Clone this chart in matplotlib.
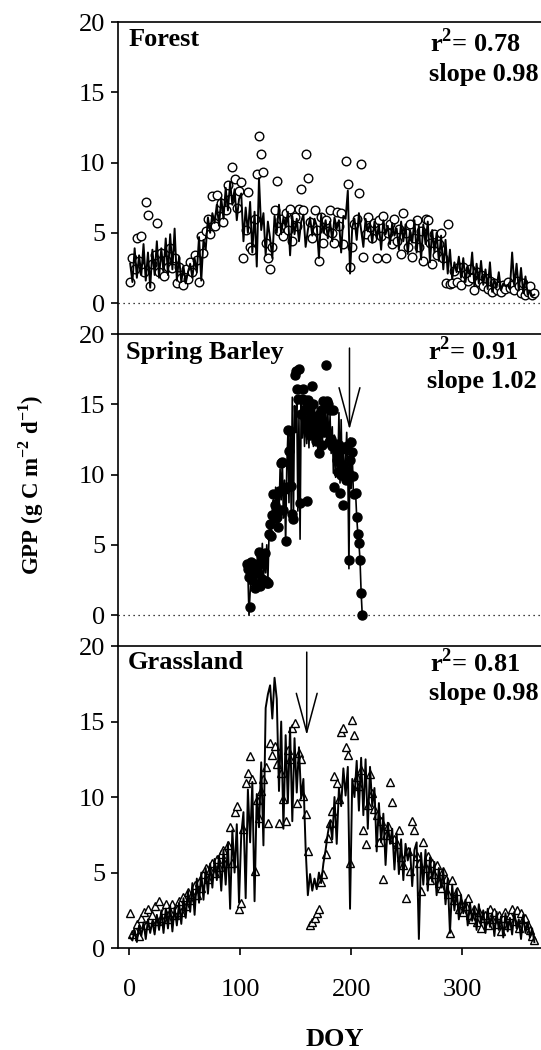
import numpy as np
import matplotlib
matplotlib.use('Agg')
import matplotlib.pyplot as plt

plt.rcParams['font.family'] = ['Liberation Serif', 'DejaVu Serif']
plt.rcParams['mathtext.fontset'] = 'custom'
plt.rcParams['mathtext.rm'] = 'Liberation Serif:bold'
plt.rcParams['mathtext.bf'] = 'Liberation Serif:bold'

# Day of year for forest and grassland (every second day), and barley season (daily)
doy_2day = np.arange(1, 366, 2)
barley_doy = np.arange(106, 211)

# Forest: measured (circles) and modelled (line) GPP
forest_obs = [
    1.5, 3.2, 2.4, 4.6, 3.0, 4.8, 2.2, 7.2, 6.3, 1.2,
    2.8, 3.4, 5.7, 2.2, 3.6, 1.9, 3.1, 2.6, 3.9, 2.5,
    3.2, 1.4, 2.6, 1.8, 1.3, 2.4, 1.7, 2.9, 2.2, 3.4,
    3.1, 1.5, 4.8, 3.6, 5.1, 6.0, 4.9, 7.6, 5.5, 7.7,
    6.2, 7.1, 5.8, 6.6, 8.4, 7.4, 9.7, 8.8, 6.8, 8.0,
    8.6, 3.2, 5.2, 7.9, 4.0, 3.8, 6.0, 9.2, 11.9, 10.6,
    9.3, 4.3, 3.2, 2.4, 4.0, 6.6, 8.7, 5.1, 6.0, 4.8,
    6.4, 5.2, 6.7, 4.4, 6.1, 5.5, 6.7, 8.1, 6.6, 10.6,
    8.9, 5.8, 4.6, 6.6, 5.2, 3.0, 6.1, 4.3, 5.9, 5.1,
    6.6, 5.0, 4.3, 6.5, 5.5, 6.4, 4.2, 10.1, 8.5, 2.6,
    4.0, 5.6, 6.0, 7.8, 9.9, 3.3, 4.9, 6.1, 5.4, 4.6,
    5.7, 3.2, 5.9, 4.8, 6.2, 3.2, 5.0, 5.6, 4.2, 6.0,
    4.4, 5.3, 3.5, 6.4, 5.0, 4.0, 5.6, 3.3, 4.6, 5.9,
    4.0, 5.1, 3.0, 6.0, 5.9, 4.3, 2.8, 4.9, 3.4, 4.2,
    5.0, 3.2, 1.4, 5.6, 1.35, 1.4, 2.3, 1.5, 2.6, 1.3,
    2.6, 2.1, 1.6, 2.4, 1.8, 0.9, 2.2, 1.5, 2.0, 1.2,
    1.8, 1.0, 1.6, 0.8, 1.4, 0.9, 1.2, 0.8, 1.3, 1.0,
    1.5, 1.1, 1.3, 0.9, 1.6, 1.2, 0.7, 1.4, 0.6, 0.8,
    1.2, 0.6, 0.7,
]
forest_mod = [
    2.8, 1.5, 3.9, 1.8, 3.4, 2.0, 4.2, 1.6, 3.6, 1.1,
    3.8, 2.0, 4.4, 1.8, 3.9, 2.2, 4.6, 2.0, 4.9, 2.4,
    5.3, 1.6, 3.3, 1.5, 2.6, 1.4, 2.2, 2.8, 1.8, 3.2,
    2.2, 4.7, 1.6, 4.5, 3.8, 6.1, 5.0, 6.4, 5.7, 7.0,
    5.5, 7.5, 6.0, 8.2, 6.6, 8.6, 7.0, 8.1, 5.9, 7.4,
    7.8, 4.4, 6.8, 5.0, 7.2, 3.6, 6.5, 2.6, 8.9, 5.2,
    6.4, 3.4, 5.8, 4.6, 3.2, 6.2, 5.0, 7.0, 4.9, 6.1,
    5.4, 6.5, 3.4, 6.2, 4.9, 6.0, 4.4, 5.8, 6.3, 4.0,
    5.2, 6.1, 4.8, 6.0, 5.5, 3.2, 6.3, 5.0, 5.9, 4.6,
    5.8, 4.4, 6.1, 5.3, 5.9, 3.6, 6.2, 6.0, 8.0, 2.1,
    5.4, 6.0, 4.5, 6.4, 5.2, 4.0, 6.0, 5.1, 5.7, 4.3,
    5.8, 4.6, 5.6, 3.8, 5.9, 4.9, 5.5, 4.2, 5.7, 4.8,
    5.3, 3.8, 5.8, 4.4, 5.6, 3.5, 5.2, 4.3, 5.9, 3.6,
    5.5, 3.1, 5.6, 4.2, 5.8, 2.9, 5.2, 3.6, 5.0, 3.0,
    4.8, 2.4, 4.5, 2.1, 3.8, 1.7, 2.9, 2.2, 3.3, 1.8,
    3.2, 1.5, 2.6, 1.9, 3.6, 1.2, 2.8, 1.4, 3.0, 1.3,
    2.4, 1.0, 2.9, 0.8, 1.7, 1.1, 2.2, 0.9, 1.4, 1.2,
    1.3, 1.0, 3.6, 1.2, 2.8, 0.9, 2.5, 0.7, 1.9, 0.6,
    0.9, 0.5, 0.6,
]

# Spring barley: measured (filled circles) and modelled (line) GPP
barley_obs = [
    3.6, 3.3, 2.7, 0.6, 3.8, 2.5, 3.1, 1.9, 3.6, 2.2,
    3.0, 4.5, 2.1, 4.1, 2.6, 3.7, 4.4, 2.4, 2.3, 2.3,
    5.8, 6.5, 5.6, 7.1, 8.6, 7.8, 6.9, 7.0, 6.3, 8.8,
    7.5, 10.8, 10.9, 7.5, 9.0, 5.3, 9.1, 13.2, 11.7, 13.1,
    9.2, 7.2, 6.8, 17.1, 17.4, 16.1, 15.4, 17.5, 8.0, 14.3,
    15.4, 16.1, 15.3, 14.7, 8.1, 15.3, 14.5, 12.8, 13.5, 16.3,
    15.0, 13.9, 12.4, 14.2, 12.8, 11.5, 13.0, 14.6, 12.1, 15.2,
    13.0, 17.8, 15.2, 15.0, 12.3, 14.6, 12.5, 12.0, 14.6, 9.1,
    12.2, 11.0, 10.2, 12.1, 8.7, 10.0, 11.8, 7.8, 10.5, 9.6,
    12.0, 10.2, 3.9, 11.0, 12.3, 11.6, 9.9, 8.6, 8.7, 7.0,
    5.8, 5.1, 3.9, 1.6, 0.0,
]
barley_mod = [
    3.4, 2.9, 0.0, 1.6, 3.2, 2.2, 3.8, 2.0, 3.3, 2.6,
    3.9, 2.3, 4.4, 3.0, 5.1, 2.5, 4.2, 3.0, 5.0, 2.4,
    5.6, 6.7, 5.4, 7.6, 8.2, 6.4, 9.1, 6.8, 8.9, 7.0,
    10.4, 8.2, 11.1, 6.9, 9.6, 5.0, 10.5, 12.8, 8.0, 13.4,
    7.4, 15.5, 6.8, 14.9, 13.0, 15.3, 7.4, 14.0, 5.4, 15.3,
    12.6, 14.8, 12.0, 15.0, 12.2, 14.6, 11.9, 15.2, 12.8, 14.8,
    12.0, 15.0, 12.4, 14.5, 11.6, 13.9, 12.2, 14.8, 11.8, 15.1,
    12.7, 14.9, 12.1, 14.5, 11.9, 14.2, 11.5, 13.4, 10.1, 12.8,
    9.8, 12.0, 10.4, 14.4, 9.4, 13.9, 9.6, 12.1, 9.8, 11.0,
    13.0, 10.4, 3.3, 12.6, 9.0, 11.4, 8.7, 8.6, 8.7, 7.0,
    5.8, 5.1, 3.9, 1.6, 0.0,
]

# Grassland: measured (triangles) and modelled (line) GPP
grass_obs = [
    2.3, 0.9, 1.2, 1.6, 0.8, 2.0, 2.4, 1.5, 2.6, 1.9,
    2.2, 2.8, 1.8, 3.1, 2.0, 2.5, 2.9, 1.9, 2.4, 2.9,
    2.2, 2.6, 3.1, 2.4, 3.4, 2.8, 3.7, 3.2, 3.6, 4.2,
    3.5, 4.4, 4.0, 4.9, 5.3, 4.6, 5.2, 5.6, 5.0, 5.9,
    5.4, 6.2, 6.5, 5.6, 6.8, 8.0, 5.6, 9.0, 9.4, 2.6,
    3.0, 7.9, 10.9, 11.6, 12.7, 11.2, 5.1, 9.8, 8.6, 10.4,
    11.2, 12.0, 8.3, 13.6, 12.8, 13.4, 12.2, 8.3, 11.6, 9.9,
    8.4, 13.1, 12.5, 14.6, 14.9, 9.6, 12.9, 12.5, 10.1, 8.9,
    6.4, 1.5, 1.7, 2.0, 2.3, 2.6, 4.4, 4.9, 6.2, 7.3,
    8.3, 9.1, 11.4, 10.9, 9.9, 14.3, 14.6, 13.3, 12.8, 5.6,
    15.1, 14.1, 11.3, 10.7, 11.8, 7.8, 6.9, 9.5, 11.5, 10.3,
    9.2, 8.8, 7.0, 8.4, 4.6, 7.5, 8.1, 11.0, 9.7, 7.2,
    6.9, 7.8, 6.0, 5.5, 3.3, 6.4, 5.1, 8.4, 7.8, 6.1,
    5.6, 3.8, 7.0, 5.3, 6.1, 4.5, 5.6, 4.9, 5.5, 4.3,
    4.0, 5.1, 4.6, 3.6, 1.0, 4.5, 3.2, 3.8, 2.6, 3.0,
    2.4, 2.8, 3.3, 2.2, 1.9, 2.6, 1.7, 2.4, 1.3, 2.0,
    2.2, 1.5, 2.6, 1.9, 2.4, 1.6, 2.2, 1.1, 2.0, 2.4,
    1.5, 2.2, 2.6, 1.8, 2.5, 1.3, 2.3, 1.9, 2.0, 1.5,
    1.2, 0.8, 0.5,
]
grass_mod = [
    0.7, 0.5, 1.2, 0.4, 1.5, 0.8, 1.7, 0.6, 1.9, 1.0,
    1.8, 0.9, 2.2, 1.2, 2.5, 1.0, 2.6, 1.3, 2.8, 1.1,
    2.7, 1.5, 3.0, 1.6, 3.3, 2.0, 3.8, 2.4, 4.3, 2.2,
    4.6, 3.0, 5.0, 3.2, 5.3, 3.6, 5.6, 4.0, 5.9, 4.5,
    6.1, 3.8, 6.5, 4.2, 7.0, 2.6, 7.8, 5.0, 8.2, 3.0,
    7.5, 9.0, 3.3, 10.5, 7.0, 11.0, 3.1, 10.2, 8.0, 12.3,
    6.8, 15.9, 16.8, 17.4, 15.2, 17.9, 16.5, 10.4, 15.0, 7.9,
    14.1, 9.6, 14.6, 8.4, 13.9, 10.3, 13.3, 9.9, 11.2, 6.6,
    3.5, 4.9, 3.8, 4.6, 3.9, 5.0, 4.3, 5.6, 6.5, 7.6,
    8.4, 7.2, 10.0, 6.9, 10.6, 9.4, 11.9, 10.1, 12.0, 2.6,
    11.2, 10.0, 12.4, 9.1, 12.6, 8.8, 12.5, 7.9, 12.0, 9.4,
    10.6, 6.4, 9.6, 7.0, 8.9, 5.5, 8.3, 6.9, 7.9, 5.2,
    7.6, 4.9, 7.2, 4.5, 6.9, 5.8, 6.6, 4.1, 6.5, 7.0,
    0.6, 6.3, 4.2, 6.5, 3.8, 6.0, 4.4, 5.7, 3.5, 5.3,
    4.0, 5.2, 2.9, 4.6, 1.0, 4.2, 2.5, 3.9, 1.9, 3.5,
    2.3, 3.2, 1.5, 3.0, 1.8, 2.7, 1.2, 2.9, 1.6, 2.5,
    1.0, 2.6, 1.4, 2.3, 0.8, 2.4, 1.2, 2.1, 0.7, 2.3,
    1.1, 2.0, 0.9, 2.4, 1.3, 1.9, 0.6, 2.2, 1.0, 1.7,
    0.7, 1.3, 0.4,
]

site_names = ['Forest', 'Spring Barley', 'Grassland']
r2_values = ['0.78', '0.91', '0.81']
slopes = ['0.98', '1.02', '0.98']
# harvest / cut arrows (DOY, arrow top, arrow tip)
arrows = [None, (198.5, 19.0, 13.2), (160, 19.6, 14.1)]

FS = 19


def style_axis(ax, ylim, bottom_axis):
    ax.set_xlim(-10, 371)
    ax.set_ylim(*ylim)
    ax.set_yticks([0, 5, 10, 15, 20])
    ax.spines['right'].set_visible(False)
    for s in ax.spines.values():
        s.set_linewidth(1.2)
    ax.tick_params(axis='y', direction='out', length=5, width=1.2,
                   labelsize=FS, pad=4)
    if bottom_axis:
        ax.set_xticks([0, 100, 200, 300])
        ax.tick_params(axis='x', direction='out', length=5, width=1.2,
                       labelsize=FS, pad=17)
    else:
        ax.spines['bottom'].set_visible(False)
        ax.set_xticks([])
        ax.axhline(0, color='black', ls=(0, (1, 3)), lw=0.9, zorder=1)


def make_plot():
    fig = plt.figure(figsize=(5.41, 10.5), dpi=100)
    left, width = 0.2181, 0.7819
    ax1 = fig.add_axes([left, 0.6819, width, 0.2971])
    ax2 = fig.add_axes([left, 0.3848, width, 0.2971])
    ax3 = fig.add_axes([left, 0.0971, width, 0.2876])

    ax1.plot(doy_2day, forest_obs, 'o', mfc='white', mec='black', ms=6.2,
             mew=1.0, zorder=2)
    ax1.plot(doy_2day, forest_mod, color='black', lw=1.4, zorder=3)

    ax2.plot(barley_doy, barley_obs, 'o', mfc='black', mec='black', ms=6.5,
             zorder=2)
    ax2.plot(barley_doy, barley_mod, color='black', lw=1.2, zorder=3)

    ax3.plot(doy_2day, grass_obs, '^', mfc='white', mec='black', ms=6.2,
             mew=1.0, zorder=2)
    ax3.plot(doy_2day, grass_mod, color='black', lw=1.4, zorder=3)

    style_axis(ax1, (-2.2, 20), False)
    style_axis(ax2, (-2.2, 20), False)
    style_axis(ax3, (0, 20), True)

    name_pos = [(0.024, 0.923), (0.019, 0.920), (0.024, 0.924)]
    r2_pos = [(0.738, 0.904), (0.733, 0.917), (0.738, 0.914)]
    slope_pos = [(0.736, 0.811), (0.731, 0.827), (0.736, 0.821)]
    for i, ax in enumerate([ax1, ax2, ax3]):
        ax.text(*name_pos[i], site_names[i], transform=ax.transAxes,
                fontsize=FS, fontweight='bold', va='baseline')
        ax.text(*r2_pos[i], r'r$^{2}$= ' + r2_values[i], transform=ax.transAxes,
                fontsize=FS, fontweight='bold', va='baseline')
        ax.text(*slope_pos[i], 'slope ' + slopes[i], transform=ax.transAxes,
                fontsize=FS, fontweight='bold', va='baseline')
        if arrows[i] is not None:
            x, top, tip = arrows[i]
            ax.annotate('', xy=(x, tip), xytext=(x, top),
                        arrowprops=dict(arrowstyle='->,head_length=2.8,head_width=0.75',
                                        lw=1.1, color='black', shrinkA=0, shrinkB=0,
                                        mutation_scale=10))

    fig.text(0.057, 0.538, r'GPP (g C m$^{-2}$ d$^{-1}$)', rotation=90,
             fontsize=16.5, fontweight='bold', ha='center', va='center')
    fig.text(0.618, 0.004, 'DOY', fontsize=FS, fontweight='bold',
             ha='center', va='baseline')

    fig.savefig('out.png', dpi=100)


if __name__ == "__main__":
    make_plot()
